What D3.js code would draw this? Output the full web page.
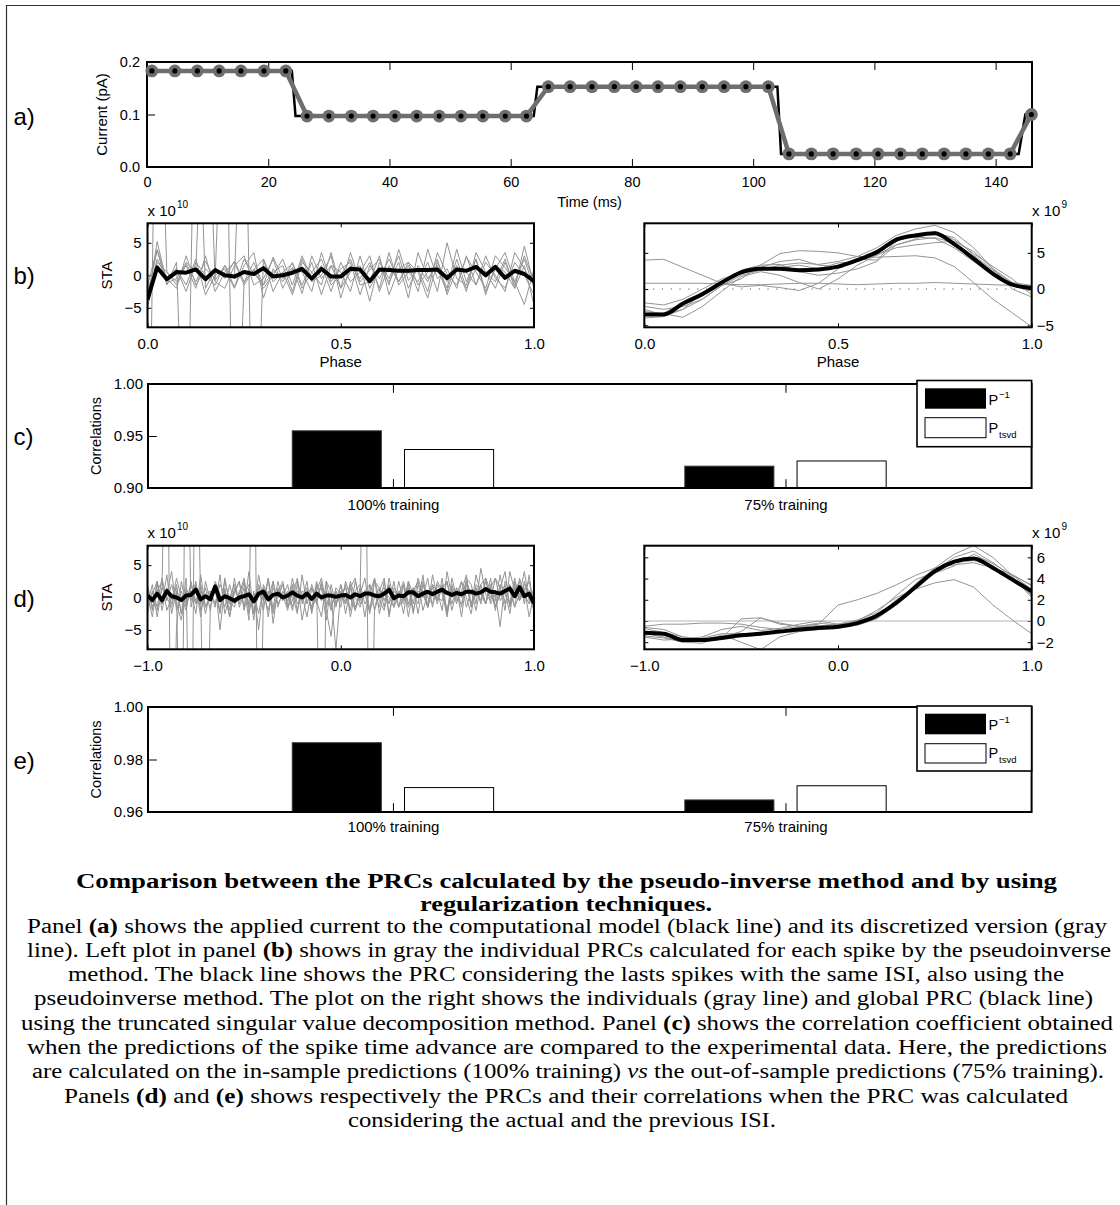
<!DOCTYPE html>
<html>
<head>
<meta charset="utf-8">
<script src="https://cdn.jsdelivr.net/npm/d3@7"></script>
<style>
  body { margin: 0; background: #fff; }
  svg { display: block; }
</style>
</head>
<body>
<svg id="fig" width="1120" height="1205"></svg>
<script>
// ---------- panel (a): applied current ----------
const stimTime = [0, 23.9, 24.5, 63.8, 64.4, 104.0, 104.6, 143.8, 144.9, 145.9];
const stimCurrent = [0.183, 0.183, 0.097, 0.097, 0.153, 0.153, 0.025, 0.025, 0.100, 0.100];
const sampleTime = [0.8, 4.6, 8.3, 11.9, 15.5, 19.3, 22.9, 26.4, 30.0, 33.7, 37.3, 40.9, 44.5, 48.2,
  51.8, 55.4, 59.1, 62.6, 66.2, 69.8, 73.4, 77.1, 80.7, 84.3, 88.0, 91.6, 95.2, 98.8, 102.5, 105.9,
  109.6, 113.2, 117.0, 120.6, 124.3, 127.9, 131.5, 135.1, 138.8, 142.4, 145.9];
const sampleCurrent = [0.183, 0.183, 0.183, 0.183, 0.183, 0.183, 0.183,
  0.097, 0.097, 0.097, 0.097, 0.097, 0.097, 0.097, 0.097, 0.097, 0.097, 0.097,
  0.153, 0.153, 0.153, 0.153, 0.153, 0.153, 0.153, 0.153, 0.153, 0.153, 0.153,
  0.025, 0.025, 0.025, 0.025, 0.025, 0.025, 0.025, 0.025, 0.025, 0.025, 0.025,
  0.100];
const timeTicks = [0, 20, 40, 60, 80, 100, 120, 140];

// ---------- panel (b): PRCs, one ISI (x 1e10 left, x 1e9 right) ----------
const bPinvMean = [-3.7, 1.2, -0.6, 0.5, 0.4, 0.9, -0.6, 0.8, 0.0, -0.2, 0.5, 0.2, 1.1, -0.2, 0.0, 0.4,
  1.0, -0.5, 1.0, -0.2, -0.2, 1.0, 0.9, -0.9, 0.9, 0.8, 0.7, 0.7, 0.8, 0.8, 0.9, -0.4, 0.9, 0.7, 1.3,
  0.0, 1.3, -0.4, 0.7, 0.2, -0.9];
const bPinvSpikes = [
  [-4.5, 5.2, -1.2, -0.5, 1.8, -1.0, 2.2, -0.8, 1.5, -1.8, 2.5, 0.3, -1.5, 2.8, -0.5, 1.2, -2.8, 3.0, -0.5, 1.5, -2.0, 3.5, -1.0, 0.8, 2.5, -1.5, 4.0, -0.8, 1.0, -2.5, 3.5, 0.2, -1.5, 2.8, 0.5, -2.0, 3.0, 1.2, -1.0, 2.5, -2.0],
  [-3.0, 3.8, -1.5, 2.0, -40, 40, -2.0, 1.0, -0.5, 2.2, -1.0, 0.8, 2.5, -2.5, 0.5, 1.8, -1.5, 2.0, -3.0, 1.5, 0.5, -2.5, 3.0, -2.0, 1.0, -1.0, 2.0, -3.5, 3.5, -0.5, 1.5, -2.0, 4.0, -1.0, 2.5, -2.5, 1.0, 3.5, -1.0, -4.5, 1.0],
  [-50, 50, 0.5, -1.5, 2.0, 0.5, 40, -1.0, -2.0, 1.5, 3.0, -1.5, -0.5, 2.5, -2.0, 1.0, 0.5, -2.5, 3.5, -1.0, 1.0, 2.0, -3.0, 1.5, -0.5, 2.5, -1.0, 1.5, -2.5, 4.0, -0.5, 1.0, -2.0, 3.0, -1.5, 2.0, 0.0, -2.5, 3.5, 1.0, -1.5],
  [-3.5, 2.5, -0.5, -2.0, 3.0, -1.5, 1.0, -0.5, 40, -40, -1.0, 2.0, -1.5, 0.5, 1.5, -2.5, 2.5, -1.0, 0.0, 3.0, -3.5, 1.5, -0.5, 2.0, -2.0, 3.5, -1.5, 0.5, -1.0, 2.0, -2.5, 5.0, -0.5, -1.5, 2.5, -3.0, 1.5, 0.5, -2.0, 4.5, -1.5],
  [-2.0, 1.5, -1.0, 1.0, -2.5, 2.0, 0.0, -1.5, 1.5, -0.5, 40, -40, 2.5, -1.0, 0.5, -3.0, 2.0, 0.5, -1.5, 3.5, -2.0, 0.5, 1.5, -4.0, 2.0, -0.5, 3.0, -2.0, 1.5, -1.0, 2.5, -3.0, 1.0, 0.5, -1.5, 3.0, -0.5, -2.0, 2.0, 0.0, -3.0],
  [-5.0, 2.0, 0.5, -1.0, 1.5, -2.0, 3.0, -2.5, 0.5, 2.0, -1.5, 1.0, -2.0, 0.0, 2.5, -1.5, 3.0, -0.5, 1.5, -2.5, 2.0, -1.0, 0.5, 3.0, -2.5, 1.5, -1.0, 2.0, 0.5, -3.5, 2.0, -1.0, 1.5, -2.5, 3.5, 0.5, -1.0, 2.5, -2.0, 1.5, -4.5],
  [-1.5, 4.0, -0.5, 1.0, -1.5, 2.5, -3.0, 0.0, 1.0, -2.0, 1.5, 3.5, -3.5, 1.0, -1.0, 2.0, -2.0, 0.5, 2.5, -1.5, 0.0, 2.5, -1.5, -1.0, 3.0, -3.0, 1.0, 2.0, -1.5, 0.5, 1.0, -2.5, 2.5, -2.0, 1.0, 0.5, -2.0, 2.0, -1.5, 3.0, -1.0]
];
const bTsvdMean = [-3.5, -3.5, -2.0, -0.7, 0.9, 2.3, 2.8, 2.8, 2.6, 2.7, 3.1, 4.0, 5.1, 6.8, 7.4, 7.7, 6.2, 4.2, 2.1, 0.6, 0.15];
const bTsvdSpikes = [
  [4.0, 4.1, 3.0, 1.9, 0.8, 0.3, 0.5, 0.2, -0.2, 0.8, 2.8, 4.0, 4.7, 6.1, 6.8, 7.1, 6.4, 4.5, 2.4, 0.5, -0.3],
  [0.8, 0.8, 0.8, 0.8, 0.7, 0.6, 0.6, 0.7, 0.8, 0.8, 0.7, 0.6, 0.7, 0.8, 0.8, 0.9, 0.8, 0.7, 0.6, 0.5, 0.4],
  [-2.8, -3.6, -2.8, -1.4, 0.5, 1.4, 3.3, 4.9, 5.3, 5.2, 5.0, 4.5, 4.4, 4.5, 4.6, 4.3, 3.1, 0.9, -1.4, -3.3, -5.2],
  [-1.9, -2.2, -1.4, 0.0, 1.4, 2.2, 2.6, 3.3, 3.6, 3.4, 3.8, 4.5, 5.7, 7.4, 8.3, 8.8, 7.8, 5.7, 2.8, 0.9, 0.5],
  [-4.0, -3.8, -2.8, -0.5, 1.1, 2.1, 3.0, 3.8, 4.1, 3.3, 3.1, 4.1, 4.0, 6.6, 7.6, 7.7, 7.1, 4.7, 2.6, 0.8, 0.0],
  [-3.1, -3.4, -3.9, -2.4, -0.3, 1.7, 2.4, 1.9, 0.9, 0.0, 1.4, 3.3, 4.7, 5.7, 6.1, 6.4, 6.6, 5.2, 2.8, 0.0, -1.1],
  [-2.4, -2.8, -2.4, -1.4, 0.5, 1.9, 2.6, 3.0, 3.3, 2.8, 3.6, 3.8, 4.7, 7.1, 7.2, 7.0, 5.7, 3.8, 1.9, 0.8, 0.3],
  [-3.6, -3.3, -1.9, -0.8, 0.9, 2.6, 3.3, 3.4, 2.4, 1.9, 2.2, 2.8, 3.8, 6.1, 6.9, 8.0, 6.8, 4.9, 3.1, 1.4, -0.8]
];
const phaseTicks = [0, 0.5, 1];

// ---------- panel (d): PRCs over actual + previous ISI ----------
const dPinvMean = [0.3, -0.4, 0.6, -0.4, 1.0, 0.2, 0.0, -0.4, 0.3, 0.4, 1.2, -0.3, 0.2, -0.3, 1.7, -0.4, 0.2, -0.1, -0.5, 0.0,
  0.2, 0.5, -0.6, 0.6, 0.9, -0.3, 0.4, 0.6, 0.0, 0.3, 0.8, 0.3, 0.0, 0.6, -0.2, 0.6, 0.0, 0.3, 0.3, 0.1,
  0.3, 0.4, 0.0, 0.5, 0.2, 0.6, 0.6, 0.3, 0.2, 0.6, 1.2, -0.1, 0.3, 0.2, 0.8, 0.8, 0.2, 0.6, 0.9, 0.5,
  0.9, 1.2, 0.7, 0.4, 0.7, 0.5, 0.9, 0.9, 0.6, 0.8, 1.3, 0.9, 0.8, 0.6, 1.0, 1.4, 0.2, 1.6, 0.2, 0.6, -0.9];
const dPinvSpikes = [
  [1.5, -2.0, 2.5, -1.0, 3.5, -2.5, 1.0, -40, 40, -1.5, 2.0, -3.0, 2.5, -0.5, 1.5, -2.5, 3.0, -1.0, 0.5, 2.5,
   -2.0, 1.5, -3.5, 2.0, -0.5, 3.0, -2.0, 1.0, 2.5, -1.5, 0.5, -2.5, 3.5, -1.0, 2.0, -0.5, -3.0, 2.5, 1.0, -1.5,
   2.0, -2.5, 1.5, 3.0, -1.0, 0.5, -2.0, 2.5, 1.5, -1.5, 3.0, -0.5, 1.0, -2.5, 2.5, 0.5, -1.0, 3.5, -1.5, 2.0,
   1.0, -2.0, 4.0, 0.0, 1.5, -1.5, 3.0, 2.0, -1.0, 4.5, 0.5, -0.5, 3.0, 1.5, -2.0, 4.0, 1.0, 2.5, -1.0, 3.5, -2.0],
  [-1.0, 2.0, -3.0, 1.5, 40, -40, -4.5, 2.5, -1.0, 1.0, -2.5, 3.5, -1.5, 0.0, 2.0, -5.0, 1.5, -3.0, 1.0, 2.5,
   -1.5, 4.0, -2.5, 0.5, 1.5, -3.0, 2.5, -1.0, 0.5, -2.0, 1.5, 2.5, -3.5, 0.5, 1.5, -1.0, 2.5, -2.0, -6.0, 1.0,
   -1.5, 2.5, 0.0, -2.0, 1.5, -3.0, 2.0, 0.5, -1.5, 2.5, -2.5, 1.0, 0.0, 2.0, -1.5, 1.0, 2.5, -2.0, 0.5, 1.5,
   -1.0, 3.0, -2.5, 1.0, 0.5, 2.5, -1.5, 1.0, -2.0, 2.0, 3.0, -1.0, 0.5, -4.5, 2.5, 1.0, -1.5, 3.0, 0.5, -1.0, 1.5],
  [2.0, -1.5, 1.0, 2.5, -2.0, 0.0, 1.5, -2.5, 3.0, -40, 40, -1.0, 1.5, -2.0, 2.5, 0.5, -1.5, 2.0, -1.0, 0.5,
   3.0, -2.5, 1.0, -5.0, 2.0, 0.0, -1.5, 2.5, -0.5, 1.0, -2.0, 2.0, 0.5, -3.0, 1.5, -0.5, 2.0, -1.5, 0.5, -8.0,
   1.0, -1.0, 2.0, -1.5, 0.5, 3.0, -2.0, 0.0, 1.5, -0.5, 2.0, -1.5, 0.5, 2.5, -1.0, 1.5, -2.5, 2.0, 0.0, -1.0,
   2.5, 1.0, -3.0, 2.0, -0.5, 1.0, 3.5, -1.5, 0.5, 2.0, -1.0, 1.5, 3.0, -0.5, 1.0, -2.5, 2.5, 0.0, 1.5, -3.0, 0.5],
  [-2.5, 1.0, -1.5, 3.0, -0.5, 2.0, -1.0, -3.5, 1.5, -0.5, 2.5, -2.0, 0.5, 1.0, -1.5, 3.5, -2.5, 0.0, 2.0, -1.0,
   1.5, -3.5, 40, -40, 0.5, -2.0, 1.5, 0.0, 2.0, -1.5, -0.5, 3.0, -1.0, 1.0, -2.0, 0.5, 1.5, -3.5, 2.0, -1.0,
   0.5, 1.5, -2.0, 2.5, -0.5, 1.0, -2.5, 3.0, -0.5, -2.0, 1.5, 0.5, -1.5, 2.0, -3.0, 1.5, 0.0, 2.5, -1.5, 1.0,
   -0.5, 2.0, -2.5, 3.0, 0.0, -1.0, 2.0, -1.5, 3.5, 0.5, -1.0, 2.0, -2.0, 1.5, 4.0, -1.5, 2.0, -0.5, 1.0, 2.5, -1.5],
  [0.5, -3.0, 2.0, -1.0, 0.5, 4.0, -2.0, 1.0, -1.5, 2.5, -1.0, 0.5, -40, -1.5, 2.0, -0.5, 1.0, -2.0, 3.0, -1.5,
   0.5, 2.0, -2.5, 3.5, -0.5, 1.0, -2.5, 0.5, 2.0, -1.0, 3.0, -1.0, 0.0, 1.5, -2.5, 2.0, -40, 2.5, -1.5, 1.0,
   -0.5, 2.0, -3.0, 1.0, 2.0, -1.0, 0.5, 3.0, -2.5, 1.0, 0.0, -1.5, 2.5, -0.5, 1.5, -2.5, 2.0, 1.0, -1.5, 3.5,
   0.0, -0.5, 2.5, -1.0, 1.5, -3.0, 2.5, 0.5, 1.5, -1.0, 2.5, 0.0, -0.5, 3.5, -1.0, 2.0, -1.5, 0.5, 4.0, -0.5, 1.0],
  [-1.5, 0.5, 2.5, -2.0, 1.5, -1.0, 3.0, 0.0, -2.0, 2.0, -0.5, 1.5, -2.5, 1.0, -1.0, 2.0, 0.5, -3.0, 1.5, -0.5,
   2.5, -1.5, 0.0, 1.5, -2.0, 3.0, -4.0, 1.5, 0.0, 2.0, -1.5, 1.0, -0.5, 2.5, -2.0, 1.0, 3.0, -1.0, 0.5, -1.0,
   2.0, -0.5, 1.5, -2.0, 0.5, 40, -40, -1.5, 1.0, 3.0, -3.0, 1.5, 0.5, -1.0, 2.5, -2.0, 1.0, 0.0, 3.0, -1.5,
   2.0, 0.5, -2.0, 1.5, -1.0, 2.5, 0.0, -2.5, 2.0, 1.0, -1.0, 3.0, -1.5, 0.5, 2.0, -1.0, 1.5, -0.5, 2.5, 0.0, -2.0],
  [1.0, -0.5, -2.0, 1.5, 0.0, -1.5, 2.0, -2.5, 0.5, 1.0, -1.0, 2.0, -1.5, 0.5, 1.5, -2.0, 2.5, -0.5, -1.5, 1.0,
   2.0, -1.0, 0.5, -2.5, 1.5, 0.0, 2.5, -1.5, 1.0, -0.5, 2.0, -2.0, 1.0, 0.5, -1.5, 2.5, -0.5, 1.0, -2.0, 1.5,
   0.5, -1.0, 2.5, 0.0, -1.5, 1.0, 2.0, -2.0, 0.5, 1.5, -1.0, 2.5, -1.5, 0.0, 2.0, -1.0, 3.0, 0.5, -1.5, 2.0,
   -0.5, 1.5, 2.5, -2.0, 1.0, 0.0, 2.5, -1.0, 1.5, -0.5, 3.0, 1.0, -1.5, 2.0, 0.5, -1.0, 3.0, -0.5, 2.0, 1.0, -1.0]
];
const dTsvdMean = [-1.1, -1.2, -1.8, -1.8, -1.6, -1.35, -1.2, -1.0, -0.8, -0.65, -0.55, -0.2, 0.5, 1.7, 3.2, 4.7, 5.6, 5.9, 5.0, 3.9, 2.8];
const dTsvdSpikes = [
  [-0.5, -0.3, -0.3, -0.2, -0.2, -0.3, -0.6, -0.8, -0.5, -0.3, 1.5, 2.0, 2.6, 3.4, 4.3, 5.0, 5.3, 5.5, 5.0, 4.4, 3.3],
  [-1.4, -1.6, -2.0, -1.8, -1.5, -1.0, 0.3, -0.3, -0.5, -0.2, -0.4, 0.0, 0.6, 1.8, 3.3, 4.5, 5.2, 6.3, 5.4, 4.3, 3.4],
  [-0.7, -1.1, -1.5, -1.9, -1.6, 0.2, 0.3, -0.2, -0.5, -0.8, -0.6, 0.0, 1.0, 2.2, 3.0, 3.6, 3.9, 3.2, 1.5, 0.1, -1.2],
  [-1.2, -1.5, -2.0, -2.1, -1.3, -2.0, -2.7, -1.5, -1.0, -0.8, -0.7, -0.3, 0.5, 1.5, 3.5, 5.0, 6.3, 7.1, 6.0, 4.3, 3.0],
  [-1.5, -1.8, -1.7, -1.5, -0.8, -0.5, -0.9, -0.7, -0.3, 0.0, -0.3, -0.2, 0.3, 2.0, 3.0, 4.5, 5.5, 5.7, 5.2, 4.0, 2.4],
  [-0.6, -0.8, -1.5, -1.7, -1.4, -1.2, -1.1, -1.0, -0.6, -0.4, -0.6, -0.4, 0.2, 1.5, 3.2, 4.8, 6.0, 6.6, 5.5, 4.2, 2.2],
  [-1.0, -1.3, -1.9, -1.6, -1.2, -1.2, -1.3, -1.0, -0.8, -0.5, -0.3, 0.1, 0.8, 2.4, 3.9, 4.6, 5.6, 6.0, 5.2, 4.0, 2.5]
];
const twoIsiTicks = [-1, 0, 1];

// ---------- panels (c) and (e): correlations ----------
const trainingSets = ["100% training", "75% training"];
const corrC_pinv = [0.955, 0.921];
const corrC_tsvd = [0.937, 0.926];
const corrE_pinv = [0.9864, 0.9646];
const corrE_tsvd = [0.9693, 0.9700];

// ---------- caption ----------
const captionLines = [
  { x: 76, y: 888, w: 981, s: [["Comparison between the PRCs calculated by the pseudo-inverse method and by using", "b"]] },
  { x: 420, y: 911, w: 292, s: [["regularization techniques.", "b"]] },
  { x: 27, y: 933, w: 1080, s: [["Panel ", ""], ["(a)", "b"], [" shows the applied current to the computational model (black line) and its discretized version (gray", ""]] },
  { x: 27, y: 957, w: 1084, s: [["line). Left plot in panel ", ""], ["(b)", "b"], [" shows in gray the individual PRCs calculated for each spike by the pseudoinverse", ""]] },
  { x: 68, y: 981, w: 996, s: [["method. The black line shows the PRC considering the lasts spikes with the same ISI, also using the", ""]] },
  { x: 34, y: 1005, w: 1059, s: [["pseudoinverse method. The plot on the right shows the individuals (gray line) and global PRC (black line)", ""]] },
  { x: 21, y: 1030, w: 1092, s: [["using the truncated singular value decomposition method. Panel ", ""], ["(c)", "b"], [" shows the correlation coefficient obtained", ""]] },
  { x: 27, y: 1054, w: 1080, s: [["when the predictions of the spike time advance are compared to the experimental data. Here, the predictions", ""]] },
  { x: 32, y: 1078, w: 1072, s: [["are calculated on the in-sample predictions (100% training) ", ""], ["vs", "i"], [" the out-of-sample predictions (75% training).", ""]] },
  { x: 64, y: 1103, w: 1004, s: [["Panels ", ""], ["(d)", "b"], [" and ", ""], ["(e)", "b"], [" shows respectively the PRCs and their correlations when the PRC was calculated", ""]] },
  { x: 348, y: 1127, w: 428, s: [["considering the actual and the previous ISI.", ""]] }
];

// ================= drawing =================
const SANS = '"Liberation Sans", Arial, Helvetica, sans-serif';
const SERIF = '"Liberation Serif", "Times New Roman", serif';
const GRAY = "#949494";
const svg = d3.select("#fig");
svg.append("rect").attr("width", 1120).attr("height", 1205).attr("fill", "#fff");
svg.append("path").attr("d", "M6.5,1205V5.5H1120")
  .attr("fill", "none").attr("stroke", "#333").attr("stroke-width", 1.2);

let clipCount = 0;
function panel(o) {
  const g = svg.append("g").attr("transform", `translate(${o.x},${o.y})`);
  const x = d3.scaleLinear().domain(o.xd).range([0, o.w]);
  const y = d3.scaleLinear().domain(o.yd).range([o.h, 0]);
  const id = "clip" + (clipCount++);
  g.append("clipPath").attr("id", id).append("rect").attr("width", o.w).attr("height", o.h);
  const axes = [];
  axes.push(g.append("g").attr("transform", `translate(0,${o.h})`)
    .call(d3.axisBottom(x).tickValues(o.xt).tickFormat(o.xf || "").tickSize(-o.tl).tickPadding(o.xpad)));
  axes.push(g.append("g")
    .call(d3.axisTop(x).tickValues(o.xt).tickFormat("").tickSize(-o.tl)));
  const rightLabels = o.yside === "right";
  axes.push(g.append("g")
    .call(d3.axisLeft(y).tickValues(o.yt).tickSize(-o.tl).tickPadding(o.ypad)
      .tickFormat(rightLabels ? "" : o.yf)));
  if (o.yboth || rightLabels) {
    axes.push(g.append("g").attr("transform", `translate(${o.w},0)`)
      .call(d3.axisRight(y).tickValues(o.yt).tickSize(-o.tl).tickPadding(o.ypad)
        .tickFormat(rightLabels ? o.yf : "")));
  }
  axes.forEach(a => {
    a.select(".domain").remove();
    a.attr("font-family", SANS).attr("font-size", o.fs || 15).attr("color", "#000");
    a.selectAll("line").attr("stroke-width", 1);
  });
  const plot = g.append("g").attr("clip-path", `url(#${id})`);
  const box = () => g.append("rect").attr("width", o.w).attr("height", o.h)
    .attr("fill", "none").attr("stroke", "#000").attr("stroke-width", 2);
  return { g, x, y, plot, box };
}

function label(txt, x, y, size, opts = {}) {
  return svg.append("text").attr("x", x).attr("y", y).text(txt)
    .attr("font-family", SANS).attr("font-size", size)
    .attr("text-anchor", opts.anchor || "start").attr("fill", "#000");
}
function vlabel(txt, x, y, size) {
  svg.append("text").attr("transform", `translate(${x},${y}) rotate(-90)`)
    .attr("text-anchor", "middle").attr("font-family", SANS).attr("font-size", size).text(txt);
}
function exponent(x, y, pow) {
  label("x 10", x, y, 15);
  label(pow, x + 29.5, y - 8, 10);
}

// ---- (a) ----
const pa = panel({ x: 147, y: 62, w: 885, h: 105, xd: [0, 146], yd: [0, 0.2],
  xt: timeTicks, xf: d3.format("d"), yt: [0, 0.1, 0.2], yf: d3.format(".1f"),
  tl: 8, xpad: 10, ypad: 7, fs: 14.5 });
pa.box();
pa.g.append("path").datum(stimCurrent)
  .attr("d", d3.line().x((d, i) => pa.x(stimTime[i])).y(d => pa.y(d)))
  .attr("fill", "none").attr("stroke", "#000").attr("stroke-width", 2.5);
pa.g.append("path").datum(sampleCurrent)
  .attr("d", d3.line().x((d, i) => pa.x(sampleTime[i])).y(d => pa.y(d)))
  .attr("fill", "none").attr("stroke", "#6e6e6e").attr("stroke-width", 4.5);
pa.g.selectAll("circle.m").data(sampleCurrent).join("circle")
  .attr("cx", (d, i) => pa.x(sampleTime[i])).attr("cy", d => pa.y(d))
  .attr("r", 6.4).attr("fill", "#6e6e6e");
pa.g.selectAll("circle.d").data(sampleCurrent).join("circle")
  .attr("cx", (d, i) => pa.x(sampleTime[i])).attr("cy", d => pa.y(d))
  .attr("r", 2.6).attr("fill", "#000");
vlabel("Current (pA)", 107, 114.5, 15);
label("Time (ms)", 589.5, 207, 14.5, { anchor: "middle" });

// ---- line panels ----
function linesPanel(p, spikes, mean, x0, x1, meanCurve) {
  const lineOf = arr => d3.line()
    .x((d, i) => p.x(x0 + (x1 - x0) * i / (arr.length - 1)))
    .y(d => p.y(d));
  spikes.forEach(s => p.plot.append("path").attr("d", lineOf(s)(s))
    .attr("fill", "none").attr("stroke", GRAY).attr("stroke-width", 1));
  const lm = lineOf(mean);
  if (meanCurve) lm.curve(meanCurve);
  p.plot.append("path").attr("d", lm(mean))
    .attr("fill", "none").attr("stroke", "#000").attr("stroke-width", 4)
    .attr("stroke-linejoin", "round");
  p.box();
}

// (b) left
const pbl = panel({ x: 147.5, y: 223.3, w: 386.5, h: 104, xd: [0, 1], yd: [-8, 8],
  xt: phaseTicks, xf: d3.format(".1f"), yt: [-5, 0, 5], yf: d3.format("d"),
  tl: 4, yboth: true, xpad: 10.6, ypad: 6 });
linesPanel(pbl, bPinvSpikes, bPinvMean, 0, 1);
// (b) right
const pbr = panel({ x: 644.3, y: 223.3, w: 387.4, h: 104, xd: [0, 1], yd: [-5.28, 9.08],
  xt: phaseTicks, xf: d3.format(".1f"), yt: [-5, 0, 5], yf: d3.format("d"),
  tl: 4, yside: "right", xpad: 10.6, ypad: 5 });
pbr.plot.append("line").attr("x1", 0).attr("x2", 387.4).attr("y1", pbr.y(0)).attr("y2", pbr.y(0))
  .attr("stroke", "#555").attr("stroke-width", 1).attr("stroke-dasharray", "1.2,7.6");
linesPanel(pbr, bTsvdSpikes, bTsvdMean, 0, 1, d3.curveMonotoneX);
vlabel("STA", 112, 275.5, 15);
label("Phase", 340.7, 367, 15, { anchor: "middle" });
label("Phase", 838, 367, 15, { anchor: "middle" });
exponent(147.5, 215.5, "10");
exponent(1032, 215.5, "9");

// (d) left
const pdl = panel({ x: 147.5, y: 545.7, w: 386.5, h: 103.6, xd: [-1, 1], yd: [-8, 8],
  xt: twoIsiTicks, xf: d3.format(".1f"), yt: [-5, 0, 5], yf: d3.format("d"),
  tl: 4, yboth: true, xpad: 11.3, ypad: 6 });
linesPanel(pdl, dPinvSpikes, dPinvMean, -1, 1);
// (d) right
const pdr = panel({ x: 644.3, y: 545.7, w: 387.4, h: 103.6, xd: [-1, 1], yd: [-2.67, 7.1],
  xt: twoIsiTicks, xf: d3.format(".1f"), yt: [-2, 0, 2, 4, 6], yf: d3.format("d"),
  tl: 4, yside: "right", xpad: 11.3, ypad: 5 });
pdr.plot.append("line").attr("x1", 0).attr("x2", 387.4).attr("y1", pdr.y(0)).attr("y2", pdr.y(0))
  .attr("stroke", "#b4b4b4").attr("stroke-width", 1.2);
linesPanel(pdr, dTsvdSpikes, dTsvdMean, -1, 1, d3.curveMonotoneX);
vlabel("STA", 112, 597.5, 15);
exponent(147.5, 538, "10");
exponent(1032, 538, "9");

// ---- bar panels ----
const BAR_W = 0.227, BAR_OFF = 0.143;
function barsPanel(top, h, yd, yt, pinv, tsvd, legendBox, xpad) {
  const p = panel({ x: 148, y: top, w: 883.6, h: h, xd: [0.376, 2.627], yd: yd,
    xt: [1, 2], xf: d => trainingSets[d - 1], yt: yt, yf: d3.format(".2f"),
    tl: 8.8, xpad: xpad, ypad: 5 });
  const series = [{ v: pinv, off: -BAR_OFF, fill: "#000", stroke: "#3a3a3a" },
                  { v: tsvd, off: BAR_OFF, fill: "#fff", stroke: "#000" }];
  series.forEach(s => {
    p.plot.selectAll(null).data(s.v).join("rect")
      .attr("x", (d, i) => p.x(i + 1 + s.off - BAR_W / 2))
      .attr("width", (d, i) => p.x(i + 1 + s.off + BAR_W / 2) - p.x(i + 1 + s.off - BAR_W / 2))
      .attr("y", d => p.y(d)).attr("height", d => p.y(yd[0]) - p.y(d))
      .attr("fill", s.fill).attr("stroke", s.stroke).attr("stroke-width", 1);
  });
  p.box();
  // legend
  const [lt, lb, b0, b1, w0, w1] = legendBox;
  const lg = svg.append("g");
  lg.append("rect").attr("x", 917).attr("y", lt).attr("width", 114.6).attr("height", lb - lt)
    .attr("fill", "#fff").attr("stroke", "#000").attr("stroke-width", 1.6);
  lg.append("rect").attr("x", 925).attr("y", b0).attr("width", 61).attr("height", b1 - b0).attr("fill", "#000");
  lg.append("rect").attr("x", 925).attr("y", w0).attr("width", 61).attr("height", w1 - w0)
    .attr("fill", "#fff").attr("stroke", "#000").attr("stroke-width", 1);
  const ty1 = (b0 + b1) / 2 + 6, ty2 = (w0 + w1) / 2 + 5;
  label("P", 988.5, ty1, 14.5);
  label("\u22121", 999, ty1 - 7, 9.5);
  label("P", 988.5, ty2, 14.5);
  label("tsvd", 999, ty2 + 5, 9.5);
  return p;
}
barsPanel(384, 104, [0.9, 1.0], [0.9, 0.95, 1.0], corrC_pinv, corrC_tsvd,
  [380.5, 446.7, 388.3, 408.7, 417.7, 437.7], 11);
vlabel("Correlations", 101, 436, 14.5);
barsPanel(707, 105, [0.96, 1.0], [0.96, 0.98, 1.0], corrE_pinv, corrE_tsvd,
  [706, 771, 713.7, 734.3, 743.7, 763], 9);
vlabel("Correlations", 101, 759.5, 14.5);

// ---- panel letters ----
[["a)", 124.5], ["b)", 283.5], ["c)", 444.5], ["d)", 606.5], ["e)", 768.5]]
  .forEach(([t, y]) => label(t, 13.5, y, 24));

// ---- caption ----
captionLines.forEach(line => {
  const t = svg.append("text").attr("x", line.x).attr("y", line.y)
    .attr("font-family", SERIF).attr("font-size", 20).attr("fill", "#000")
    .attr("textLength", line.w).attr("lengthAdjust", "spacingAndGlyphs")
    .attr("xml:space", "preserve").style("white-space", "pre");
  line.s.forEach(([txt, st]) => {
    const ts = t.append("tspan").text(txt);
    if (st === "b") ts.attr("font-weight", "bold");
    if (st === "i") ts.attr("font-style", "italic");
  });
});
</script>
</body>
</html>
